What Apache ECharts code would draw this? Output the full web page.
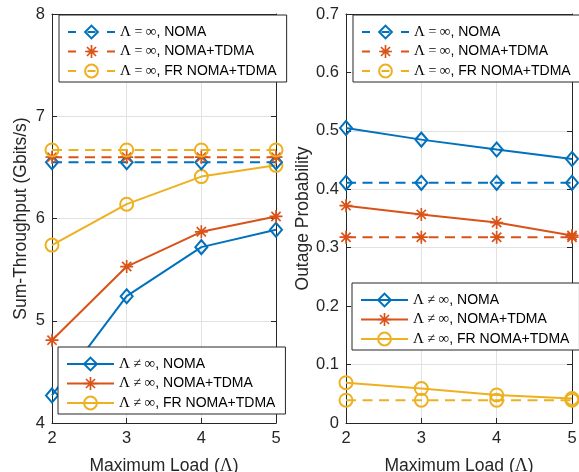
<!DOCTYPE html>
<html>
<head>
<meta charset="utf-8">
<script src="https://cdn.jsdelivr.net/npm/echarts@6/dist/echarts.min.js"></script>
<style>html,body{margin:0;padding:0;background:#fff;}#c{width:579px;height:472px;}</style>
</head>
<body>
<div id="c"></div>
<script>
// ---- data ----
const xLoad = [2, 3, 4, 5];
const xTicks = [2, 3, 4, 5];
// Left: Sum-Throughput (Gbits/s)
const thrNomaInf = [6.55, 6.55, 6.55, 6.55];
const thrNtInf   = [6.60, 6.60, 6.60, 6.60];
const thrFrInf   = [6.67, 6.67, 6.67, 6.67];
const thrNoma    = [4.27, 5.24, 5.72, 5.89];
const thrNt      = [4.81, 5.53, 5.87, 6.02];
const thrFr      = [5.74, 6.14, 6.41, 6.52];
// Right: Outage Probability
const outNomaInf = [0.411, 0.411, 0.411, 0.411];
const outNtInf   = [0.318, 0.318, 0.318, 0.318];
const outFrInf   = [0.039, 0.039, 0.039, 0.039];
const outNoma    = [0.505, 0.485, 0.468, 0.452];
const outNt      = [0.372, 0.357, 0.343, 0.321];
const outFr      = [0.069, 0.059, 0.048, 0.042];

const names = {
  nomaInf: 'Λ=∞, NOMA', ntInf: 'Λ=∞, NOMA+TDMA', frInf: 'Λ=∞, FR NOMA+TDMA',
  noma: 'Λ≠∞, NOMA', nt: 'Λ≠∞, NOMA+TDMA', fr: 'Λ≠∞, FR NOMA+TDMA'
};

const C1 = '#0072BD', C2 = '#D95319', C3 = '#EDB120';
const FONT = '"Liberation Sans", Arial, Helvetica, sans-serif';
const SERIF = '"Liberation Serif", "DejaVu Serif", serif';
const AX = '#262626';

const ASTER = 'path://M-0.13,-1 L0.13,-1 L0.13,1 L-0.13,1 Z M-1,-0.13 L1,-0.13 L1,0.13 L-1,0.13 Z ' +
  'M-0.615,-0.799 L0.799,0.615 L0.615,0.799 L-0.799,-0.615 Z M-0.799,0.615 L0.615,-0.799 L0.799,-0.615 L-0.615,0.799 Z';

function pts(ys) { return xLoad.map((x, i) => [x, ys[i]]); }

function mk(name, ys, color, kind, dashed, gi) {
  const s = {
    name: name, type: 'line', data: pts(ys), xAxisIndex: gi, yAxisIndex: gi,
    lineStyle: { color: color, width: 2, type: dashed ? [10, 6.5] : 'solid' },
    showSymbol: true, symbolKeepAspect: true, animation: false, z: dashed ? 3 : 2
  };
  if (kind === 'diamond') {
    s.symbol = 'diamond'; s.symbolSize = [12, 14];
    s.itemStyle = { color: 'rgba(255,255,255,0)', borderColor: color, borderWidth: 2 };
  } else if (kind === 'circle') {
    s.symbol = 'circle'; s.symbolSize = 13;
    s.itemStyle = { color: 'rgba(255,255,255,0)', borderColor: color, borderWidth: 2 };
  } else {
    s.symbol = ASTER; s.symbolSize = 13;
    s.itemStyle = { color: color, borderWidth: 0 };
  }
  return s;
}

function xAx(gi, pos, labels) {
  return {
    type: 'value', gridIndex: gi, position: pos, min: 2, max: 5, interval: 1,
    axisLine: { show: true, onZero: false, lineStyle: { color: AX, width: 1 } },
    axisTick: { show: true, inside: true, length: 5, lineStyle: { color: AX } },
    axisLabel: { show: labels, color: AX, fontSize: 16.5, fontFamily: FONT, margin: 7 },
    splitLine: { show: labels, lineStyle: { color: '#e2e2e2', width: 1 } },
    name: labels ? 'Maximum Load ({s|Λ})' : '', nameLocation: 'middle', nameGap: 34,
    nameTextStyle: { color: AX, fontSize: 17.5, fontFamily: FONT,
      rich: { s: { fontFamily: SERIF, fontSize: 18, color: AX } } }
  };
}
function yAx(gi, pos, labels, min, max, itv, name, gap, fmt) {
  return {
    type: 'value', gridIndex: gi, position: pos, min: min, max: max, interval: itv,
    axisLine: { show: true, onZero: false, lineStyle: { color: AX, width: 1 } },
    axisTick: { show: true, inside: true, length: 5, lineStyle: { color: AX } },
    axisLabel: { show: labels, color: AX, fontSize: 16.5, fontFamily: FONT, margin: 7, formatter: fmt },
    splitLine: { show: labels, lineStyle: { color: '#e2e2e2', width: 1 } },
    name: labels ? name : '', nameLocation: 'middle', nameGap: gap,
    nameTextStyle: { color: AX, fontSize: 17.5, fontFamily: FONT }
  };
}

function legendFmt(n) { return n.replace(/^Λ([=≠])∞/, '{s|Λ}{o| $1 }{s|∞}'); }
function lg(left, top, data, dashed) {
  const l = {
    left: left, top: top, orient: 'vertical', data: data,
    itemWidth: 47, itemHeight: 16, itemGap: 3.5,
    padding: [9, 10, 3, 8],
    backgroundColor: '#fff', borderColor: '#262626', borderWidth: 1, borderRadius: 0,
    selectedMode: false, formatter: legendFmt,
    textStyle: { color: '#000', fontSize: 14, fontFamily: FONT, lineHeight: 16,
      rich: { s: { fontFamily: SERIF, fontSize: 15, color: '#000', lineHeight: 16 },
              o: { fontFamily: SERIF, fontSize: 14, color: '#000', lineHeight: 16 } } }
  };
  if (dashed) l.lineStyle = { type: [8, 11.5] };
  return l;
}

const gridBase = { outerBoundsMode: 'none', containLabel: false, top: 14, height: 409 };
const option = {
  backgroundColor: '#fff',
  animation: false,
  grid: [
    Object.assign({ left: 52, width: 224 }, gridBase),
    Object.assign({ left: 346, width: 226 }, gridBase)
  ],
  xAxis: [xAx(0, 'bottom', true), xAx(1, 'bottom', true), xAx(0, 'top', false), xAx(1, 'top', false)],
  yAxis: [
    yAx(0, 'left', true, 4, 8, 1, 'Sum-Throughput (Gbits/s)', 22, v => String(v)),
    yAx(1, 'left', true, 0, 0.7, 0.1, 'Outage Probability', 34, v => (Math.round(v * 10) / 10 === 0 ? '0' : (Math.round(v * 10) / 10).toFixed(1))),
    yAx(0, 'right', false, 4, 8, 1, '', 0),
    yAx(1, 'right', false, 0, 0.7, 0.1, '', 0)
  ],
  legend: [
    lg(59, 15, [names.nomaInf, names.ntInf, names.frInf], true),
    lg(58, 347, [names.noma, names.nt, names.fr], false),
    lg(353, 15, [names.nomaInf, names.ntInf, names.frInf], true),
    lg(352, 283, [names.noma, names.nt, names.fr], false)
  ],
  series: [
    mk(names.noma, thrNoma, C1, 'diamond', false, 0),
    mk(names.nt, thrNt, C2, 'aster', false, 0),
    mk(names.fr, thrFr, C3, 'circle', false, 0),
    mk(names.nomaInf, thrNomaInf, C1, 'diamond', true, 0),
    mk(names.ntInf, thrNtInf, C2, 'aster', true, 0),
    mk(names.frInf, thrFrInf, C3, 'circle', true, 0),
    mk(names.noma, outNoma, C1, 'diamond', false, 1),
    mk(names.nt, outNt, C2, 'aster', false, 1),
    mk(names.fr, outFr, C3, 'circle', false, 1),
    mk(names.nomaInf, outNomaInf, C1, 'diamond', true, 1),
    mk(names.ntInf, outNtInf, C2, 'aster', true, 1),
    mk(names.frInf, outFrInf, C3, 'circle', true, 1)
  ]
};

const chart = echarts.init(document.getElementById('c'), null, { renderer: 'canvas' });
chart.setOption(option);
</script>
</body>
</html>
